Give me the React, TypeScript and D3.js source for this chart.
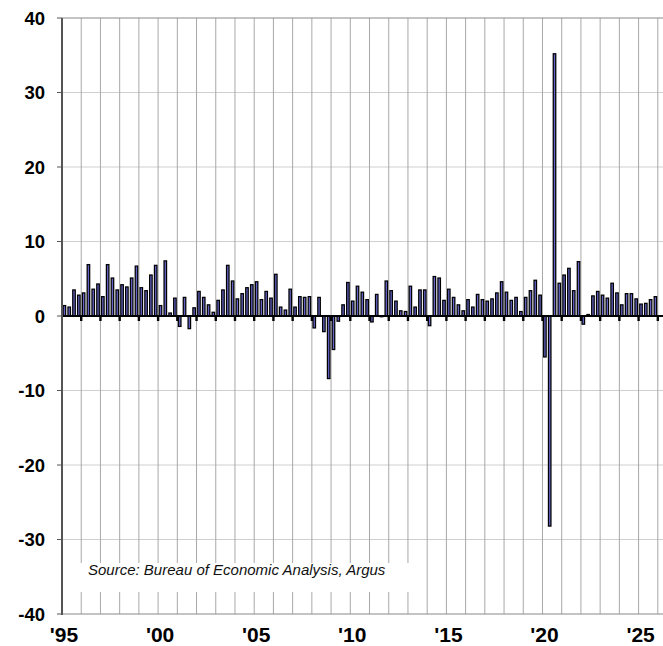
import * as d3 from 'd3'

// real GDP, quarterly % change (annualized), 1995 Q1 to 2025 Q4
const startYear = 1995
const quarterlyGrowth = [
    1.4, 1.2, 3.5, 2.8,     // 1995
    3.1, 6.9, 3.6, 4.3,     // 1996
    2.6, 6.9, 5.1, 3.5,     // 1997
    4.2, 3.9, 5.1, 6.7,     // 1998
    3.8, 3.4, 5.5, 6.8,     // 1999
    1.4, 7.4, 0.4, 2.4,     // 2000
    -1.4, 2.5, -1.7, 1.1,   // 2001
    3.3, 2.5, 1.5, 0.5,     // 2002
    2.1, 3.5, 6.8, 4.7,     // 2003
    2.3, 3.0, 3.8, 4.2,     // 2004
    4.6, 2.2, 3.3, 2.4,     // 2005
    5.6, 1.2, 0.8, 3.6,     // 2006
    1.2, 2.6, 2.5, 2.6,     // 2007
    -1.6, 2.5, -2.1, -8.4,  // 2008
    -4.5, -0.7, 1.5, 4.5,   // 2009
    2.0, 4.0, 3.2, 2.2,     // 2010
    -0.8, 2.9, -0.1, 4.7,   // 2011
    3.4, 2.0, 0.7, 0.6,     // 2012
    4.0, 1.2, 3.5, 3.5,     // 2013
    -1.3, 5.3, 5.1, 2.1,    // 2014
    3.6, 2.5, 1.5, 0.7,     // 2015
    2.2, 1.2, 2.9, 2.2,     // 2016
    2.0, 2.3, 3.1, 4.6,     // 2017
    3.2, 2.1, 2.5, 0.6,     // 2018
    2.5, 3.4, 4.8, 2.8,     // 2019
    -5.5, -28.2, 35.2, 4.4, // 2020
    5.5, 6.4, 3.4, 7.3,     // 2021
    -1.1, 0.2, 2.7, 3.3,    // 2022
    2.8, 2.4, 4.4, 3.1,     // 2023
    1.5, 3.0, 3.0, 2.3,     // 2024
    1.6, 1.7, 2.2, 2.6,     // 2025
]

const yTicks = [-40, -30, -20, -10, 0, 10, 20, 30, 40]
const labelYears = [1995, 2000, 2005, 2010, 2015, 2020, 2025]
const labelTexts = ["'95", "'00", "'05", "'10", "'15", "'20", "'25"]
const gridYears = [
    1996, 1997, 1998, 1999, 2000, 2001, 2002, 2003, 2004, 2005,
    2006, 2007, 2008, 2009, 2010, 2011, 2012, 2013, 2014, 2015,
    2016, 2017, 2018, 2019, 2020, 2021, 2022, 2023, 2024, 2025, 2026,
]
const sourceNote = 'Source: Bureau of Economic Analysis, Argus'

export default function App() {
    const width = 663
    const height = 646
    const left = 62
    const top = 18
    const bottom = 614

    const x = d3.scaleLinear().domain([1995, 2026.27]).range([left, width])
    const y = d3.scaleLinear().domain([-40, 40]).range([bottom, top])

    const bars = quarterlyGrowth.map((v, i) => ({
        t: startYear + (i + 0.5) / 4,
        v,
    }))
    const barW = 2.5

    return (
        <svg width={width} height={height}
            style={{position: 'absolute', left: 0, top: 0, display: 'block', background: 'white'}}
            fontFamily="'Liberation Sans', Arial, sans-serif">
            {/* horizontal grid */}
            {yTicks.filter(t => t !== 0 && t !== 40 && t !== -40).map(t => (
                <line key={'h' + t} x1={left} x2={width} y1={y(t)} y2={y(t)}
                    stroke="#cfcfcf" strokeWidth={1} />
            ))}
            {/* vertical grid */}
            {gridYears.map(g => (
                <line key={'v' + g} x1={x(g)} x2={x(g)} y1={top} y2={bottom}
                    stroke="#a8a8a8" strokeWidth={1} />
            ))}
            {/* frame */}
            <line x1={left} x2={width} y1={top} y2={top} stroke="#8a8a8a" strokeWidth={1.2} />
            <line x1={left} x2={width} y1={bottom} y2={bottom} stroke="#8a8a8a" strokeWidth={1.2} />

            {/* source box */}
            <rect x={left + 1} y={563} width={362} height={29} fill="white" />
            <text x={88} y={575} fontSize={15} fontStyle="italic" fill="#111">{sourceNote}</text>

            {/* bars */}
            {bars.map((d, i) => (
                <rect key={'b' + i}
                    x={x(d.t) - barW / 2}
                    y={Math.min(y(d.v), y(0))}
                    width={barW}
                    height={Math.abs(y(d.v) - y(0))}
                    fill="#6464c8" stroke="#000" strokeWidth={1.25} />
            ))}

            {/* zero line and year ticks */}
            <line x1={left} x2={width} y1={y(0)} y2={y(0)} stroke="#000" strokeWidth={2.2} />
            {gridYears.map(g => (
                <line key={'t' + g} x1={x(g)} x2={x(g)} y1={y(0)} y2={y(0) + 5}
                    stroke="#000" strokeWidth={2.4} />
            ))}

            {/* y axis */}
            <line x1={left} x2={left} y1={top} y2={bottom + 1} stroke="#555" strokeWidth={2} />
            {yTicks.map(t => (
                <g key={'y' + t}>
                    <line x1={left - 5} x2={left} y1={y(t)} y2={y(t)} stroke="#555" strokeWidth={1} />
                    <text x={45} y={y(t)} dy="0.36em" textAnchor="end"
                        fontSize={18.5} fontWeight="bold" fill="#000">{t}</text>
                </g>
            ))}

            {/* x labels */}
            {labelYears.map((yr, i) => (
                <text key={'x' + yr} x={x(yr) + 2} y={642} textAnchor="middle"
                    fontSize={21} fontWeight="bold" fill="#000">{labelTexts[i]}</text>
            ))}
        </svg>
    )
}
